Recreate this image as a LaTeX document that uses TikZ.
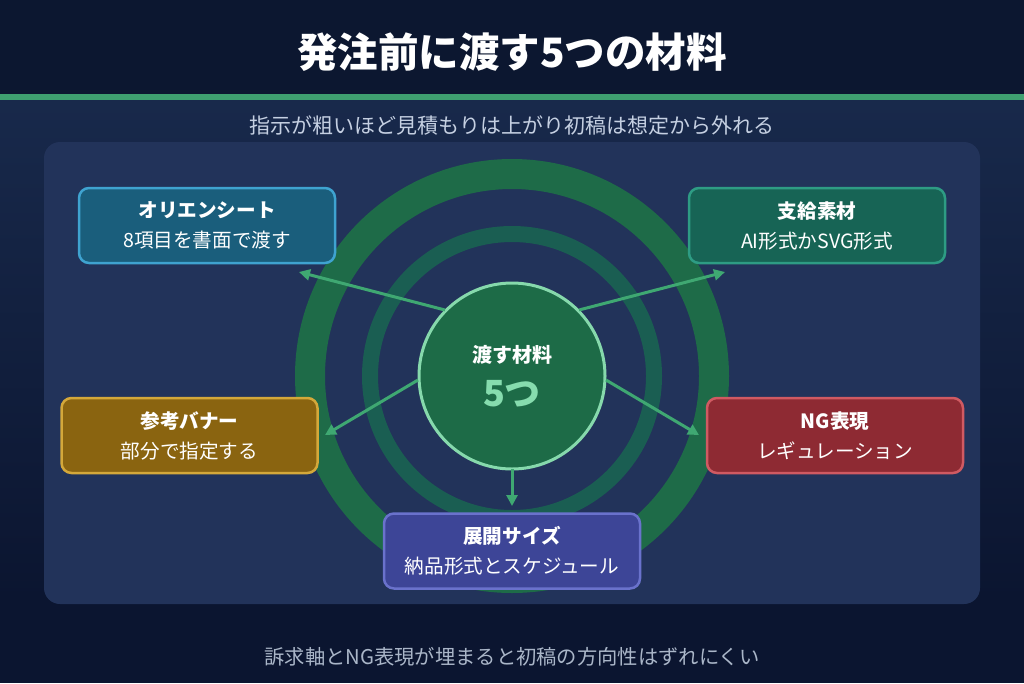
\documentclass[tikz,border=0pt]{standalone}
\usepackage{fontspec}
\setmainfont{Noto Sans CJK JP}
\usetikzlibrary{arrows.meta}
\definecolor{bgtop}{HTML}{0C1730}
\definecolor{bgmid}{HTML}{18294B}
\definecolor{bgbot}{HTML}{0B1530}
\definecolor{linegreen}{HTML}{3FA070}
\definecolor{panel}{HTML}{22335A}
\definecolor{outerring}{HTML}{1E6B48}
\definecolor{innerring}{HTML}{1A5E52}
\definecolor{corefill}{HTML}{1D6B47}
\definecolor{coreedge}{HTML}{86D9AC}
\definecolor{arrowc}{HTML}{3FA872}
\definecolor{fivec}{HTML}{86DCAE}
\definecolor{subc}{HTML}{C5D0E2}
\definecolor{footc}{HTML}{AAB6C8}
\definecolor{tlfill}{HTML}{1A5E7C}\definecolor{tledge}{HTML}{3FA3D0}
\definecolor{trfill}{HTML}{176455}\definecolor{tredge}{HTML}{2E9C84}
\definecolor{mlfill}{HTML}{8A6410}\definecolor{mledge}{HTML}{D4A83A}
\definecolor{mrfill}{HTML}{8E2A33}\definecolor{mredge}{HTML}{D05A62}
\definecolor{bfill}{HTML}{3D4597}\definecolor{bedge}{HTML}{6A72CC}
\begin{document}
\begin{tikzpicture}[x=1pt,y=-1pt,
  itembox/.style={rounded corners=10pt, line width=2.5pt, minimum width=256pt, minimum height=75pt,
     text=white, align=center, font=\fontsize{19.6}{30}\selectfont, inner sep=0pt},
  conn/.style={arrowc, line width=3pt, -{Triangle[length=11pt,width=11pt]}}]
\useasboundingbox (0,0) rectangle (1024,683);
\fill[bgtop] (0,0) rectangle (1024,94);
\fill[linegreen] (0,94) rectangle (1024,100);
\shade[top color=bgmid, bottom color=bgbot] (0,100) rectangle (1024,600);
\fill[bgbot] (0,599) rectangle (1024,683);
\fill[panel, rounded corners=16pt] (44,142) rectangle (980,604);
\draw[outerring, line width=30pt] (512,376) circle (202);
\draw[innerring, line width=16pt] (512,376) circle (142);

\node[text=white, font=\fontsize{40.5}{40}\selectfont\bfseries] (title) at (512,52) {発注前に渡す5つの材料};
\node[text=subc, font=\fontsize{21}{21}\selectfont] (sub) at (512,126) {指示が粗いほど見積もりは上がり初稿は想定から外れる};
\node[text=footc, font=\fontsize{20.3}{20}\selectfont] (foot) at (512,657) {訴求軸とNG表現が埋まると初稿の方向性はずれにくい};

\node[circle, fill=corefill, draw=coreedge, line width=3pt, minimum size=186pt] (core) at (512,376) {};
\node[text=white, font=\fontsize{20}{20}\selectfont\bfseries] (coret) at (512,355) {渡す材料};
\node[text=fivec, font=\fontsize{36}{36}\selectfont\bfseries] (five) at (512,394) {5つ};

\node[itembox, fill=tlfill, draw=tledge] (tl) at (207,225.5) {{\bfseries オリエンシート}\\8項目を書面で渡す};
\node[itembox, fill=trfill, draw=tredge] (tr) at (817,225.5) {{\bfseries 支給素材}\\AI形式かSVG形式};
\node[itembox, fill=mlfill, draw=mledge] (ml) at (189.5,435.5) {{\bfseries 参考バナー}\\部分で指定する};
\node[itembox, fill=mrfill, draw=mredge] (mr) at (835,435.5) {{\bfseries NG表現}\\レギュレーション};
\node[itembox, fill=bfill, draw=bedge] (bt) at (512,551) {{\bfseries 展開サイズ}\\納品形式とスケジュール};

\coordinate (tlS) at (445,310); \coordinate (tlE) at (299,272);
\coordinate (trS) at (579,310); \coordinate (trE) at (725,272);
\coordinate (mlS) at (418,380); \coordinate (mlE) at (325,435);
\coordinate (mrS) at (606,380); \coordinate (mrE) at (699,435);
\coordinate (btS) at (512,469); \coordinate (btE) at (512,506);
\draw[conn] (tlS) -- (tlE);
\draw[conn] (trS) -- (trE);
\draw[conn] (mlS) -- (mlE);
\draw[conn] (mrS) -- (mrE);
\draw[conn] (btS) -- (btE);
\end{tikzpicture}
\end{document}
